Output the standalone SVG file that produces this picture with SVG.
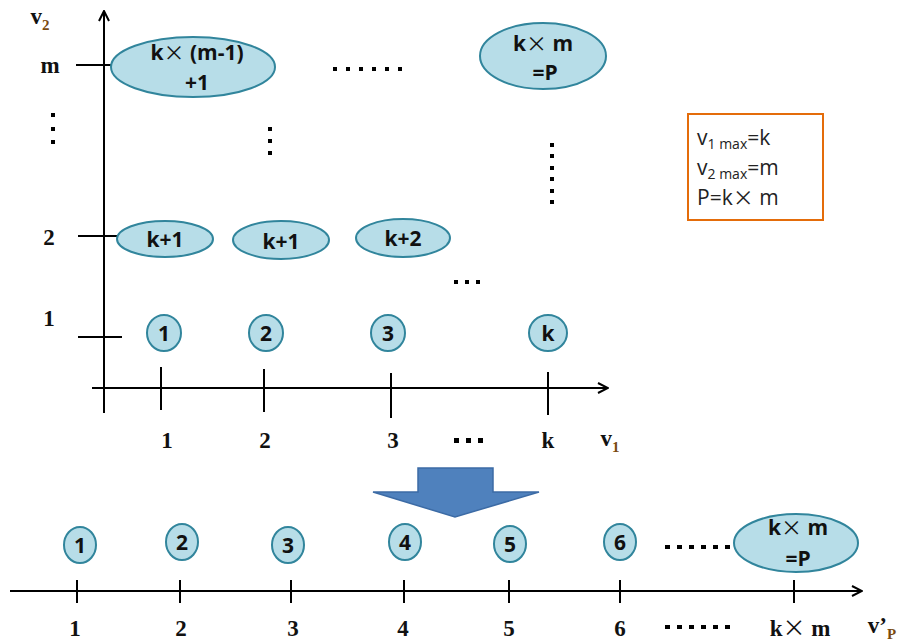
<svg xmlns="http://www.w3.org/2000/svg" width="915" height="642" viewBox="0 0 915 642">
  <defs>
    <marker id="arr" viewBox="0 0 12 12" refX="11" refY="6" markerWidth="12" markerHeight="12" markerUnits="userSpaceOnUse" orient="auto">
      <path d="M1,1 L11,6 L1,11" fill="none" stroke="#000" stroke-width="2"/>
    </marker>
    <style>
      .ax { stroke:#000; stroke-width:2; fill:none; }
      .nd { fill:#b7dde8; stroke:#31859c; stroke-width:2; }
      .nt { font-family:"Open Sans","Liberation Sans",sans-serif; font-weight:bold; font-size:21px; fill:#111; text-anchor:middle; }
      .lb { font-family:"Liberation Serif",serif; font-weight:bold; font-size:23px; fill:#111; text-anchor:middle; }
      .bx { font-family:"Open Sans","Liberation Sans",sans-serif; font-size:21px; fill:#222; }
      .x { font-family:"Noto Sans CJK SC","Noto Sans CJK JP",sans-serif; font-weight:normal; }
      .sub { font-size:15px; fill:#7a4a10; }
    </style>
  </defs>

  <!-- axes and ticks -->
  <g id="connectors">
    <line class="ax" x1="104" y1="413" x2="104" y2="11" marker-end="url(#arr)"/>
    <line class="ax" x1="92" y1="388" x2="608" y2="388" marker-end="url(#arr)"/>
    <line class="ax" x1="76" y1="65" x2="118" y2="65"/>
    <line class="ax" x1="78" y1="236" x2="118" y2="236"/>
    <line class="ax" x1="78" y1="337" x2="122" y2="337"/>
    <line class="ax" x1="161" y1="367" x2="161" y2="410"/>
    <line class="ax" x1="264" y1="369" x2="264" y2="412"/>
    <line class="ax" x1="391" y1="373" x2="391" y2="418"/>
    <line class="ax" x1="548" y1="372" x2="548" y2="415"/>

    <line class="ax" x1="10" y1="591" x2="862" y2="591" marker-end="url(#arr)"/>
    <line class="ax" x1="77" y1="580" x2="77" y2="603"/>
    <line class="ax" x1="180" y1="580" x2="180" y2="603"/>
    <line class="ax" x1="291" y1="580" x2="291" y2="603"/>
    <line class="ax" x1="404" y1="580" x2="404" y2="603"/>
    <line class="ax" x1="509" y1="580" x2="509" y2="603"/>
    <line class="ax" x1="620" y1="580" x2="620" y2="603"/>
    <line class="ax" x1="794" y1="580" x2="794" y2="603"/>
  </g>

  <!-- upper axis labels -->
  <g id="upper-labels">
    <text class="lb" x="40" y="24" font-size="25">v<tspan class="sub" dy="6">2</tspan></text>
    <text class="lb" x="50" y="73">m</text>
    <text class="lb" x="49" y="245">2</text>
    <text class="lb" x="49" y="326">1</text>
    <text class="lb" x="167" y="448">1</text>
    <text class="lb" x="265" y="448">2</text>
    <text class="lb" x="393" y="448">3</text>
    <text class="lb" x="548" y="448">k</text>
    <text class="lb" x="610" y="446" font-size="25">v<tspan class="sub" dy="6">1</tspan></text>
  </g>

  <!-- dotted continuation marks -->
  <g id="dots" fill="#000">
    <rect x="333" y="67" width="4" height="4"/><rect x="346" y="67" width="4" height="4"/><rect x="359" y="67" width="4" height="4"/>
    <rect x="372" y="67" width="4" height="4"/><rect x="385" y="67" width="4" height="4"/><rect x="398" y="67" width="4" height="4"/>
    <rect x="51" y="113" width="4" height="4"/><rect x="51" y="127" width="4" height="4"/><rect x="51" y="140" width="4" height="4"/>
    <rect x="268" y="127" width="4" height="4"/><rect x="268" y="139" width="4" height="4"/><rect x="268" y="151" width="4" height="4"/>
    <rect x="550" y="143" width="4" height="4"/><rect x="550" y="154" width="4" height="4"/><rect x="550" y="166" width="4" height="4"/>
    <rect x="550" y="177" width="4" height="4"/><rect x="550" y="189" width="4" height="4"/><rect x="550" y="200" width="4" height="4"/>
    <rect x="454" y="280" width="4" height="4"/><rect x="465" y="280" width="4" height="4"/><rect x="476" y="280" width="4" height="4"/>
    <rect x="454" y="438" width="5" height="5"/><rect x="466" y="438" width="5" height="5"/><rect x="478" y="438" width="5" height="5"/>
    <rect x="665" y="545" width="5" height="4"/><rect x="677" y="545" width="5" height="4"/><rect x="689" y="545" width="5" height="4"/>
    <rect x="701" y="545" width="5" height="4"/><rect x="713" y="545" width="5" height="4"/><rect x="725" y="545" width="5" height="4"/>
    <rect x="665" y="625" width="5" height="4"/><rect x="677" y="625" width="5" height="4"/><rect x="689" y="625" width="5" height="4"/>
    <rect x="701" y="625" width="5" height="4"/><rect x="713" y="625" width="5" height="4"/><rect x="725" y="625" width="5" height="4"/>
  </g>

  <!-- upper nodes -->
  <g id="n-top-left"><ellipse class="nd" cx="193" cy="67" rx="82" ry="30"/>
    <text class="nt" x="197" y="60">k<tspan class="x">×</tspan> (m-1)</text><text class="nt" x="197" y="90">+1</text></g>
  <g id="n-top-right"><ellipse class="nd" cx="543" cy="56" rx="63" ry="33"/>
    <text class="nt" x="543" y="51">k<tspan class="x">×</tspan> m</text><text class="nt" x="545" y="80" font-size="17">=P</text></g>
  <g id="n-row2-a"><ellipse class="nd" cx="165" cy="239" rx="48" ry="18"/><text class="nt" x="165" y="247">k+1</text></g>
  <g id="n-row2-b"><ellipse class="nd" cx="281" cy="240" rx="48" ry="19"/><text class="nt" x="281" y="249">k+1</text></g>
  <g id="n-row2-c"><ellipse class="nd" cx="403" cy="238" rx="47" ry="19"/><text class="nt" x="403" y="246">k+2</text></g>
  <g id="n-row1-1"><ellipse class="nd" cx="164" cy="333" rx="17" ry="18"/><text class="nt" x="164" y="341">1</text></g>
  <g id="n-row1-2"><ellipse class="nd" cx="266" cy="333" rx="17" ry="18"/><text class="nt" x="266" y="341">2</text></g>
  <g id="n-row1-3"><ellipse class="nd" cx="388" cy="333" rx="17" ry="18"/><text class="nt" x="388" y="341">3</text></g>
  <g id="n-row1-k"><ellipse class="nd" cx="548" cy="333" rx="19" ry="18"/><text class="nt" x="548" y="341">k</text></g>

  <!-- legend box -->
  <g id="legend">
    <rect x="688" y="114" width="135" height="106" fill="#fff" stroke="#e46c0a" stroke-width="2"/>
    <text class="bx" x="697" y="145" font-size="22">v<tspan font-size="14" dy="4">1 max</tspan><tspan dy="-4">=k</tspan></text>
    <text class="bx" x="697" y="175" font-size="22">v<tspan font-size="14" dy="4">2 max</tspan><tspan dy="-4">=m</tspan></text>
    <text class="bx" x="697" y="205">P=k<tspan class="x">×</tspan> m</text>
  </g>

  <!-- transformation arrow -->
  <g id="down-arrow">
    <path d="M418,468 L493,468 L493,492 L539,492 L455,517 L373,492 L418,492 Z" fill="#4f81bd" stroke="#3c6ba5" stroke-width="1.5"/>
  </g>

  <!-- lower nodes -->
  <g id="p-1"><ellipse class="nd" cx="80" cy="545" rx="16" ry="18"/><text class="nt" x="80" y="553">1</text></g>
  <g id="p-2"><ellipse class="nd" cx="182" cy="542" rx="16" ry="18"/><text class="nt" x="182" y="550">2</text></g>
  <g id="p-3"><ellipse class="nd" cx="288" cy="545" rx="16" ry="18"/><text class="nt" x="288" y="553">3</text></g>
  <g id="p-4"><ellipse class="nd" cx="405" cy="542" rx="16" ry="18"/><text class="nt" x="405" y="550">4</text></g>
  <g id="p-5"><ellipse class="nd" cx="510" cy="544" rx="16" ry="18"/><text class="nt" x="510" y="552">5</text></g>
  <g id="p-6"><ellipse class="nd" cx="620" cy="542" rx="16" ry="18"/><text class="nt" x="620" y="550">6</text></g>
  <g id="p-last"><ellipse class="nd" cx="796" cy="543" rx="62" ry="29"/>
    <text class="nt" x="798" y="535">k<tspan class="x">×</tspan> m</text><text class="nt" x="798" y="566" font-size="17">=P</text></g>

  <!-- lower axis labels -->
  <g id="lower-labels">
    <text class="lb" x="75" y="636">1</text>
    <text class="lb" x="181" y="636">2</text>
    <text class="lb" x="293" y="636">3</text>
    <text class="lb" x="403" y="636">4</text>
    <text class="lb" x="509" y="636">5</text>
    <text class="lb" x="620" y="636">6</text>
    <text class="lb" x="800" y="636">k<tspan class="x">×</tspan> m</text>
    <text class="lb" x="882" y="633" font-size="25">v’<tspan class="sub" dy="6" font-size="16">P</tspan></text>
  </g>
</svg>
